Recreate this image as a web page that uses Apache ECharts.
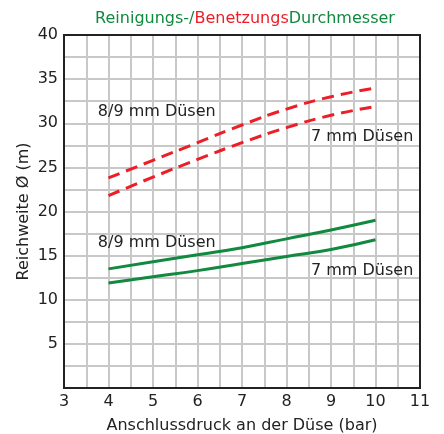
<!DOCTYPE html>
<html><head><meta charset="utf-8">
<script src="https://cdn.jsdelivr.net/npm/echarts@6/dist/echarts.min.js"></script>
<style>html,body{margin:0;padding:0;background:#fff}#c{width:444px;height:434px}</style>
</head><body><div id="c"></div>
<script>
const pressure = [4, 5, 6, 7, 8, 9, 10];
const benetzung89 = [23.8, 25.8, 27.8, 29.8, 31.6, 33.0, 34.0];
const benetzung7 = [21.8, 23.9, 25.9, 27.8, 29.5, 30.9, 31.9];
const reinigung89 = [13.5, 14.3, 15.1, 15.9, 16.9, 17.9, 19.0];
const reinigung7 = [11.9, 12.6, 13.3, 14.1, 14.9, 15.7, 16.8];
const curveLabels = [
  { text: '8/9 mm Düsen', at: [3.76, 31.3] },
  { text: '7 mm Düsen', at: [8.55, 28.5] },
  { text: '8/9 mm Düsen', at: [3.76, 16.4] },
  { text: '7 mm Düsen', at: [8.55, 13.3] }
];

const GREEN = '#11893f';
const RED = '#ec1e27';
const FONT = 'DejaVu Sans';
const FS = 16;

function pts(ys) { return pressure.map((x, i) => [x, ys[i]]); }
function line(data, color, dashed) {
  return { type: 'line', data: pts(data), smooth: true, symbol: 'none', silent: true,
    lineStyle: { color, width: 3, type: dashed ? [12, 7] : 'solid' } };
}
const chart = echarts.init(document.getElementById('c'));
chart.setOption({
  animation: false,
  title: { text: '{g|Reinigungs-/}{r|Benetzungs}{g|Durchmesser}', left: 240, top: 6, textAlign: 'center',
    textStyle: { rich: { g: { color: GREEN, fontFamily: FONT, fontSize: FS, fontWeight: 'normal' },
                         r: { color: RED, fontFamily: FONT, fontSize: FS, fontWeight: 'normal' } } } },
  grid: { left: 64, right: 24, top: 35, bottom: 46, containLabel: false, outerBoundsMode: 'none' },
  xAxis: { type: 'value', min: 3, max: 11, interval: 0.5,
    name: 'Anschlussdruck an der Düse (bar)', nameLocation: 'middle', nameGap: 30, nameMoveOverlap: false,
    nameTextStyle: { fontFamily: FONT, fontSize: FS, color: '#222' },
    axisLine: { lineStyle: { color: '#222', width: 2 } }, axisTick: { show: false },
    axisLabel: { fontFamily: FONT, fontSize: FS, color: '#222', margin: 6,
      formatter: v => Number.isInteger(v) ? String(v) : '' },
    splitLine: { show: true, lineStyle: { color: '#c8c8c8', width: 2 } } },
  yAxis: { type: 'value', min: 0, max: 40, interval: 2.5,
    name: 'Reichweite Ø (m)', nameLocation: 'middle', nameGap: 32, nameMoveOverlap: false,
    nameTextStyle: { fontFamily: FONT, fontSize: FS, color: '#222' },
    axisLine: { show: true, lineStyle: { color: '#222', width: 2 } }, axisTick: { show: false },
    axisLabel: { fontFamily: FONT, fontSize: FS, color: '#222', margin: 6,
      formatter: v => (v > 0 && v % 5 === 0) ? String(v) : '' },
    splitLine: { show: true, lineStyle: { color: '#c8c8c8', width: 2 } } },
  series: [
    line(benetzung89, RED, true),
    line(benetzung7, RED, true),
    line(reinigung89, GREEN, false),
    line(reinigung7, GREEN, false)
  ]
});
const tl = chart.convertToPixel({ gridIndex: 0 }, [3, 40]);
const br = chart.convertToPixel({ gridIndex: 0 }, [11, 0]);
const g = [{ type: 'rect', shape: { x: tl[0], y: tl[1], width: br[0] - tl[0], height: br[1] - tl[1] },
  style: { fill: 'none', stroke: '#222', lineWidth: 2 }, z: 10, silent: true }];
curveLabels.forEach(l => {
  const p = chart.convertToPixel({ gridIndex: 0 }, l.at);
  g.push({ type: 'text', x: p[0], y: p[1], z: 11, silent: true,
    style: { text: l.text, fill: '#222', font: FS + 'px "' + FONT + '"', textAlign: 'left', textVerticalAlign: 'middle' } });
});
chart.setOption({ graphic: g });
</script></body></html>
